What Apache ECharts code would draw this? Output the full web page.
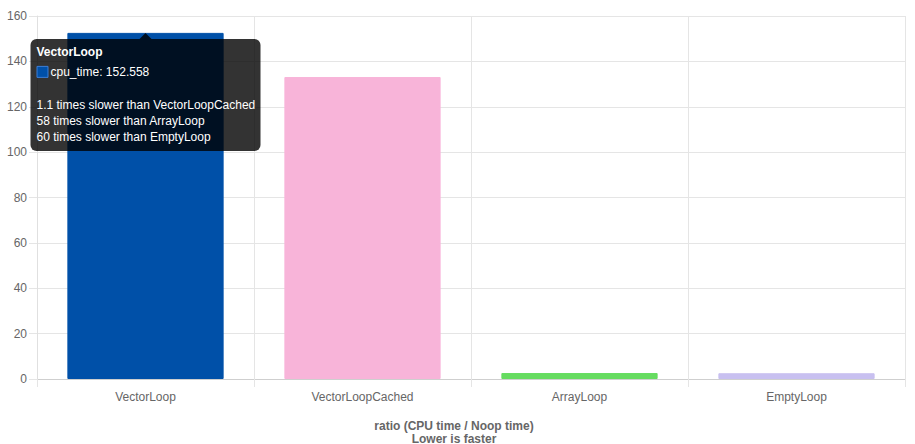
<!DOCTYPE html>
<html>
<head>
<meta charset="utf-8">
<script src="https://cdn.jsdelivr.net/npm/echarts@6/dist/echarts.min.js"></script>
<style>
html,body{margin:0;padding:0;background:#fff;}
#c{width:915px;height:444px;}
</style>
</head>
<body>
<div id="c"></div>
<script>
const categories = ['VectorLoop', 'VectorLoopCached', 'ArrayLoop', 'EmptyLoop'];
const cpuTime = [152.558, 133.1, 2.63, 2.54];
const barColors = ['#0050A8', '#F8B4D9', '#66DC60', '#C8C0F0'];
const yTicks = { min: 0, max: 160, interval: 20 };
const seriesName = 'cpu_time';
const hoveredIndex = 0;

const FONT = 'Arial, "Liberation Sans", Helvetica, sans-serif';
const chart = echarts.init(document.getElementById('c'), null, { renderer: 'svg' });

chart.setOption({
  animation: false,
  grid: { left: 37, right: 10, top: 16, bottom: 65, containLabel: false, outerBoundsMode: 'none' },
  xAxis: {
    type: 'category',
    data: categories,
    boundaryGap: true,
    name: 'ratio (CPU time / Noop time)\nLower is faster',
    nameLocation: 'middle',
    nameGap: 40,
    nameTextStyle: { color: '#666', fontSize: 12, fontWeight: 'bold', fontFamily: FONT, lineHeight: 13, padding: [0, 34, 0, 0] },
    axisLine: { show: true, lineStyle: { color: '#cfcfcf' } },
    axisTick: { show: true, length: 8, lineStyle: { color: '#e5e5e5' } },
    splitLine: { show: true, lineStyle: { color: '#e5e5e5' } },
    axisLabel: { color: '#666', fontSize: 12, fontFamily: FONT, margin: 12 }
  },
  yAxis: {
    type: 'value',
    min: yTicks.min, max: yTicks.max, interval: yTicks.interval,
    axisLine: { show: true, lineStyle: { color: '#e0e0e0' } },
    axisTick: { show: true, length: 8, lineStyle: { color: '#e5e5e5' } },
    splitLine: { show: true, lineStyle: { color: '#e5e5e5' } },
    axisLabel: { color: '#666', fontSize: 12, fontFamily: FONT, margin: 10 }
  },
  series: [{
    name: seriesName,
    type: 'bar',
    barWidth: '72%',
    data: cpuTime.map((v, i) => ({
      value: v,
      itemStyle: { color: barColors[i], borderColor: barColors[i], borderWidth: 1 }
    }))
  }]
});

// Tooltip drawn as graphic, anchored to the hovered bar top
function fmtRatio(r) { return r < 10 ? r.toFixed(1) : String(Math.round(r)); }
const tip = chart.convertToPixel({ seriesIndex: 0 }, [hoveredIndex, cpuTime[hoveredIndex]]);
const boxW = 230, boxH = 112;
const bx = tip[0] - 115, by = tip[1] + 6;
const lines = [];
cpuTime.forEach((v, i) => {
  if (i === hoveredIndex) return;
  lines.push(fmtRatio(cpuTime[hoveredIndex] / v) + ' times slower than ' + categories[i]);
});
const graphics = [
  { type: 'rect', shape: { x: bx, y: by, width: boxW, height: boxH, r: 6 }, style: { fill: 'rgba(0,0,0,0.8)' }, z: 100 },
  { type: 'polygon', shape: { points: [[tip[0] - 6, by], [tip[0] + 6, by], [tip[0], by - 6]] }, style: { fill: 'rgba(0,0,0,0.8)' }, z: 100 },
  { type: 'text', x: bx + 6, y: by + 13, style: { text: categories[hoveredIndex], fill: '#fff', font: 'bold 12px ' + FONT, verticalAlign: 'middle' }, z: 101 },
  { type: 'rect', shape: { x: bx + 6.5, y: by + 27.5, width: 11, height: 11 }, style: { fill: barColors[hoveredIndex], stroke: '#3d7fd6', lineWidth: 1 }, z: 101 },
  { type: 'text', x: bx + 20, y: by + 33, style: { text: seriesName + ': ' + cpuTime[hoveredIndex], fill: '#fff', font: '12px ' + FONT, verticalAlign: 'middle' }, z: 101 }
];
lines.forEach((t, k) => {
  graphics.push({ type: 'text', x: bx + 6, y: by + 66 + k * 16.3, style: { text: t, fill: '#fff', font: '12px ' + FONT, verticalAlign: 'middle' }, z: 101 });
});
chart.setOption({ graphic: graphics });
</script>
</body>
</html>
